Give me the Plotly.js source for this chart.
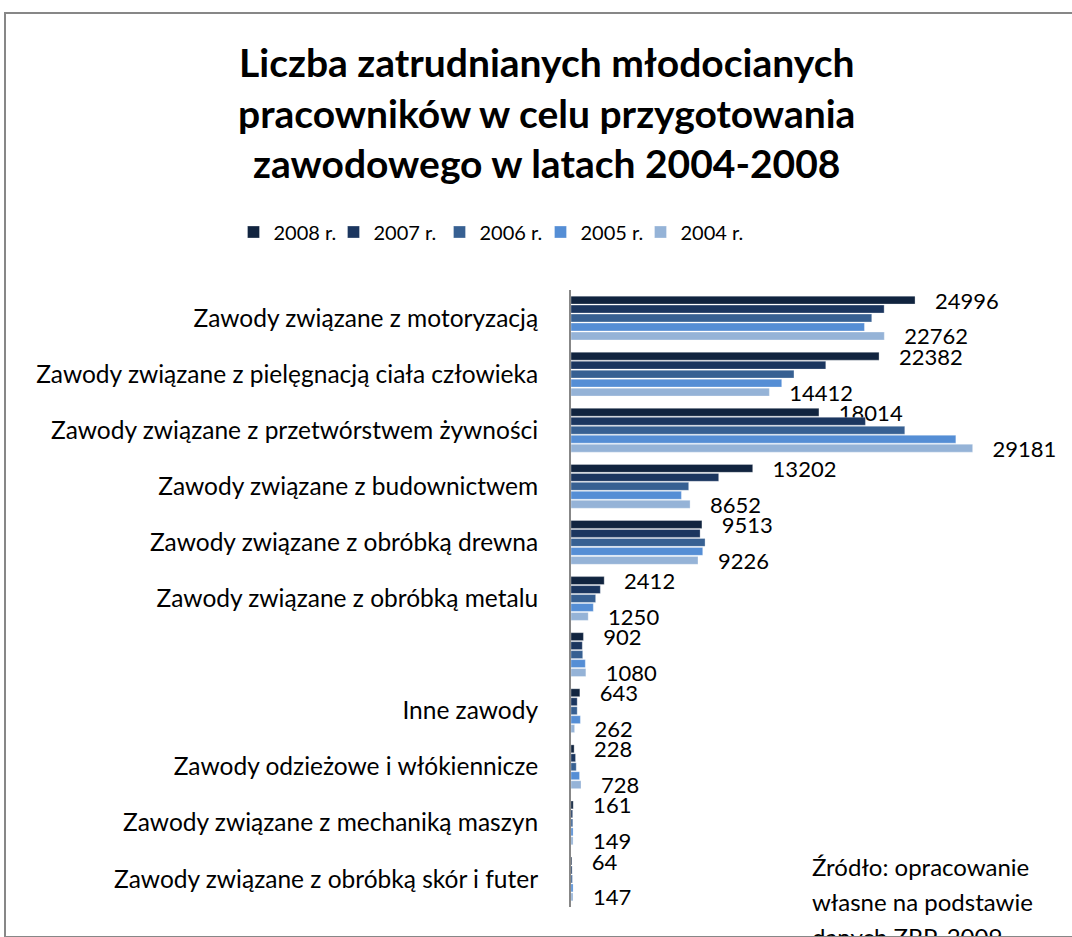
<!DOCTYPE html>
<html>
<head>
<meta charset="utf-8">
<script src="https://cdn.plot.ly/plotly-3.0.1.min.js"></script>
<style>
html,body{margin:0;padding:0;background:#fff;overflow:hidden;}
#chart{width:1072px;height:937px;position:absolute;left:0;top:0;}
#frame{position:absolute;left:4px;top:12px;width:1100px;height:922px;border:2px solid #878787;pointer-events:none;z-index:5;}
</style>
</head>
<body>
<div id="chart"></div>
<div id="frame"></div>
<script>
const categories = [
  "Zawody związane z motoryzacją",
  "Zawody związane z pielęgnacją ciała człowieka",
  "Zawody związane z przetwórstwem żywności",
  "Zawody związane z budownictwem",
  "Zawody związane z obróbką drewna",
  "Zawody związane z obróbką metalu",
  " ",
  "Inne zawody",
  "Zawody odzieżowe i włókiennicze",
  "Zawody związane z mechaniką maszyn",
  "Zawody związane z obróbką skór i futer"
];
const seriesNames = ["2008 r.", "2007 r.", "2006 r.", "2005 r.", "2004 r."];
const v2008 = [24996, 22382, 18014, 13202, 9513, 2412, 902, 643, 228, 161, 64];
const v2007 = [22750, 18510, 21390, 10730, 9380, 2130, 820, 450, 330, 120, 80];
const v2006 = [21850, 16200, 24250, 8550, 9740, 1790, 850, 450, 380, 130, 100];
const v2005 = [21320, 15310, 27960, 8020, 9570, 1620, 1040, 680, 620, 150, 150];
const v2004 = [22762, 14412, 29181, 8652, 9226, 1250, 1080, 262, 728, 149, 147];
const sourceLines = ["Źródło: opracowanie", "własne na podstawie", "danych ZRP, 2009"];
const colors = ["#11243F", "#1B365F", "#376092", "#558ED5", "#95B3D7"];
const labelled = [true, false, false, false, true];
const allValues = [v2008, v2007, v2006, v2005, v2004];
// legend swatch centres (px) as in the reference
const legendCenters = [257, 357, 463, 564, 664];

const FONT = "Lato, 'Open Sans', sans-serif";
const pad = "\u00a0\u00a0\u00a0";
const legendIds = ["legend", "legend2", "legend3", "legend4", "legend5"];
const traces = allValues.map((vals, i) => {
  const t = {
    type: "bar",
    orientation: "h",
    name: seriesNames[i],
    legend: legendIds[i],
    y: categories,
    x: vals,
    marker: {color: colors[i], line: {color: "rgba(255,255,255,0.6)", width: 0.5}},
    cliponaxis: false,
    hoverinfo: "x+name"
  };
  if (labelled[i]) {
    t.text = vals.map(v => pad + v);
    t.textposition = "outside";
    t.constraintext = "none";
    t.textfont = {family: FONT, size: 22, color: "#000"};
  }
  return t;
});

const srcTop = [866, 901, 936];
const annotations = sourceLines.map((s, i) => ({
  xref: "paper", yref: "paper",
  x: (810 - 571) / 501, xanchor: "left",
  y: (937 - 30 - srcTop[i]) / 617, yanchor: "middle",
  align: "left",
  showarrow: false,
  text: s,
  font: {family: FONT, size: 24, color: "#000"}
}));

const layout = {
  width: 1072,
  height: 937,
  paper_bgcolor: "#fff",
  plot_bgcolor: "#fff",
  margin: {l: 571, r: 0, t: 290, b: 30, autoexpand: false},
  font: {family: FONT, color: "#000"},
  title: {
    text: "<b>Liczba zatrudnianych młodocianych<br>pracowników w celu przygotowania<br>zawodowego w latach 2004-2008</b>",
    font: {family: FONT, size: 39, color: "#000"},
    x: 0.51, xanchor: "center", xref: "container",
    y: 0.918, yanchor: "middle", yref: "container"
  },
  barmode: "group",
  bargap: 0.2,
  bargroupgap: 0.12,
  showlegend: true,
  xaxis: {
    range: [0, 36400],
    showgrid: false, zeroline: false, showline: false,
    showticklabels: false, ticks: ""
  },
  yaxis: {
    type: "category",
    categoryorder: "array",
    categoryarray: categories,
    autorange: "reversed",
    showline: true,
    linecolor: "#878787",
    linewidth: 2,
    ticks: "",
    ticklabelstandoff: 26,
    tickfont: {family: FONT, size: 24.5, color: "#000"},
    showgrid: false,
    zeroline: false
  },
  annotations: annotations
};

legendIds.forEach((id, i) => {
  layout[id] = {
    orientation: "h",
    xref: "container",
    yref: "container",
    x: (legendCenters[i] - 23.5) / 1072, xanchor: "left",
    y: 1 - 232 / 937, yanchor: "middle",
    font: {family: FONT, size: 20, color: "#000"},
    bgcolor: "rgba(0,0,0,0)"
  };
});

Plotly.newPlot("chart", traces, layout, {displayModeBar: false, staticPlot: true});
</script>
</body>
</html>
